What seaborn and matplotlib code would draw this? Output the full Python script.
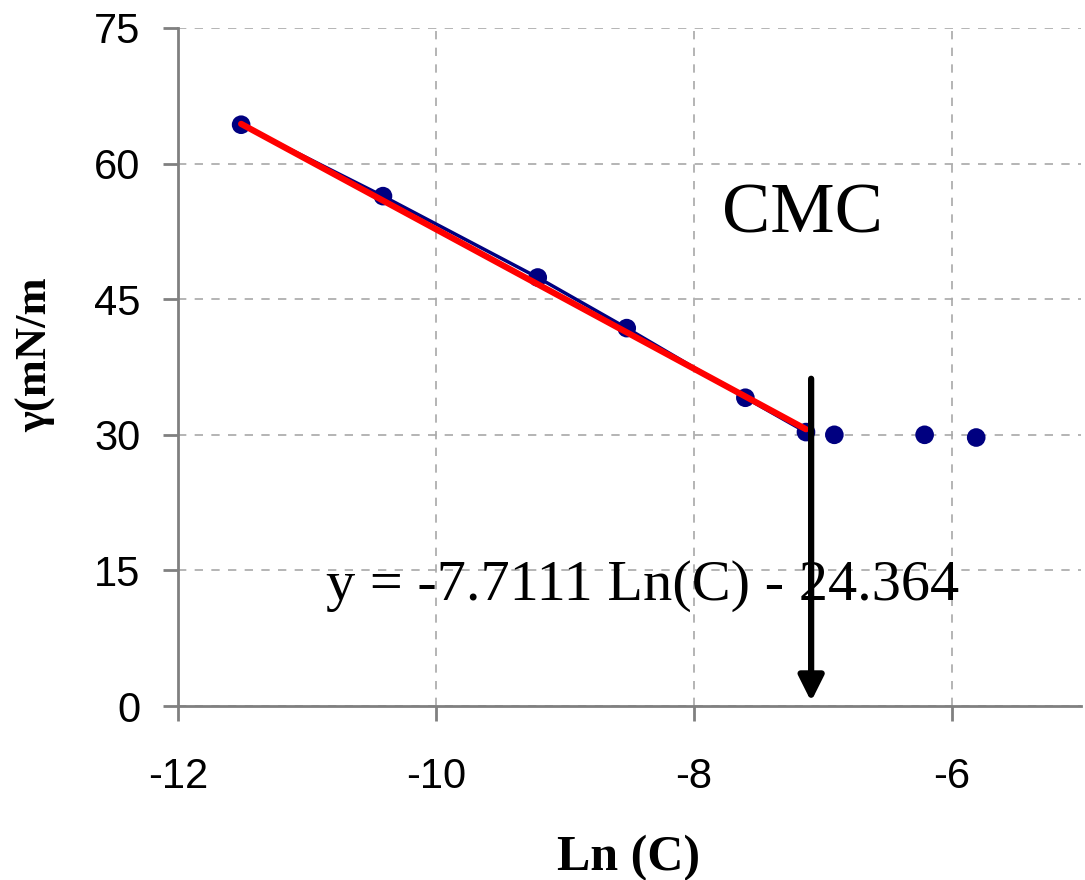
import matplotlib
matplotlib.use('Agg')
from matplotlib import pyplot as plt
import pandas as pd
import seaborn as sns

# data
ln_c = [-11.51, -10.41, -9.21, -8.52, -7.60, -7.13, -6.91, -6.21, -5.81]
gamma = [64.3, 56.4, 47.4, 41.8, 34.1, 30.3, 30.0, 30.0, 29.7]
n_fit = 6  # points before the CMC
slope = -7.7111
intercept = -24.364
x_ticks = [-12, -10, -8, -6]
y_ticks = [0, 15, 30, 45, 60, 75]

df = pd.DataFrame({'Ln (C)': ln_c, 'gamma': gamma})
df_pre = df.iloc[:n_fit]
df_fit = pd.DataFrame({'x': [ln_c[0], ln_c[n_fit - 1]]})
df_fit['y'] = slope * df_fit['x'] + intercept

sns.set_style('whitegrid')
plt.rcParams['font.family'] = ['Liberation Sans', 'DejaVu Sans']
plt.rcParams['axes.unicode_minus'] = False
plt.rcParams['text.color'] = 'black'

fig = plt.figure(figsize=(10.85, 8.8), dpi=100)
ax = fig.add_axes([0.164, 0.1977, 0.832, 0.7705])

# blue connecting line, then markers
sns.lineplot(data=df_pre, x='Ln (C)', y='gamma', color='#000080', lw=2.5, ax=ax, zorder=3)
ax.plot(df_pre['Ln (C)'], df_pre['gamma'], 'D', color='black', ms=6, zorder=3.5)
sns.scatterplot(data=df, x='Ln (C)', y='gamma', color='#000080', s=180, edgecolor='none', ax=ax, zorder=4)
sns.lineplot(data=df_fit, x='x', y='y', color='#ff0000', lw=4.5, ax=ax, zorder=5)

# CMC arrow
ax.annotate('', xy=(-7.09, 0.5), xytext=(-7.09, 36.2),
            arrowprops=dict(arrowstyle='-|>', lw=4.5, color='black', mutation_scale=38,
                            shrinkA=0, shrinkB=0), zorder=6)

ax.text(-7.78, 54.3, 'CMC', fontsize=52, family='Liberation Serif', va='center', ha='left')
ax.text(-10.85, 13.3, 'y = -7.7111 Ln(C) - 24.364', fontsize=42, family='Liberation Serif',
        va='center', ha='left')

ax.set_xlim(-12, -5)
ax.set_ylim(0, 75)
ax.set_xticks(x_ticks)
ax.set_yticks(y_ticks)
ax.set_xlabel('')
ax.set_ylabel('')
ax.grid(True, color='#a8a8a8', linestyle=(0, (5, 5)), lw=1.2)
for side in ['top', 'right']:
    ax.spines[side].set_visible(False)
for side in ['left', 'bottom']:
    ax.spines[side].set_color('#808080')
    ax.spines[side].set_linewidth(2)
ax.tick_params(axis='both', length=11, width=2, color='#808080', labelsize=30,
               labelcolor='black', direction='out', left=True, bottom=True)
ax.tick_params(axis='x', pad=26)
ax.tick_params(axis='y', pad=16)

fig.text(0.579, 0.025, 'Ln (C)', fontsize=36, fontweight='bold', family='Liberation Serif',
         ha='center', va='center')
fig.text(0.033, 0.597, 'γ(mN/m', fontsize=32, fontweight='bold', family='Liberation Serif',
         rotation=90, ha='center', va='center')

fig.savefig('out.png', dpi=100)
